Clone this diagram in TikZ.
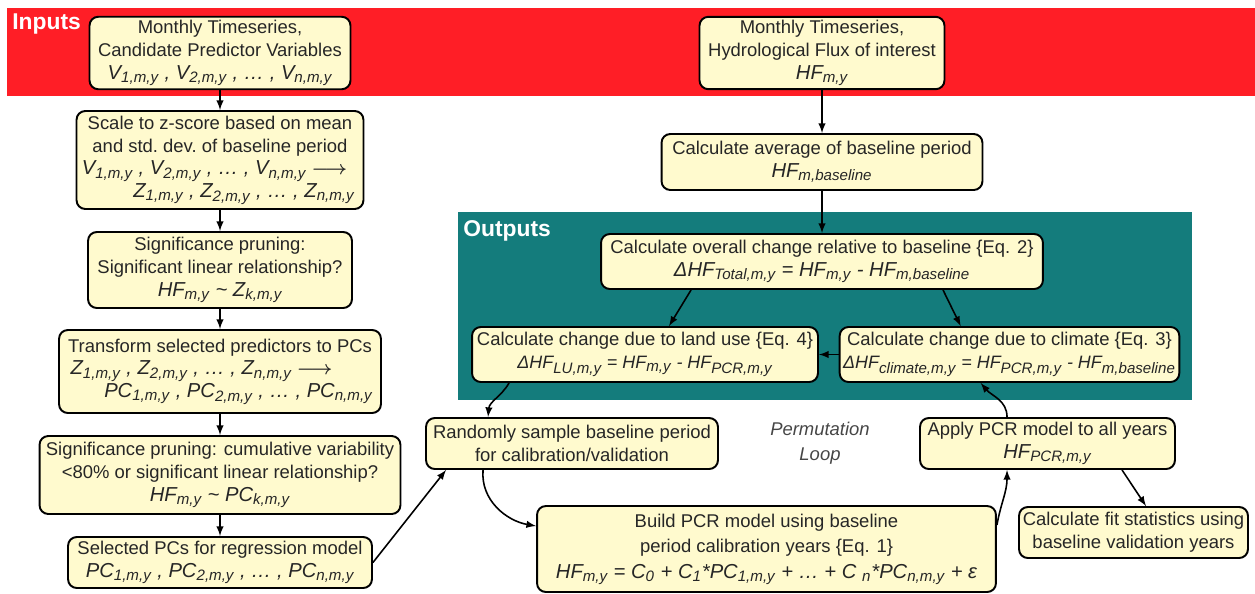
\documentclass[tikz,border=0pt]{standalone}
\usepackage{fontspec}
\setmainfont{Liberation Sans}
\usetikzlibrary{positioning}
\usetikzlibrary{arrows.meta}
\definecolor{inred}{RGB}{255,30,38}
\definecolor{outteal}{RGB}{20,124,124}
\definecolor{boxfill}{RGB}{255,250,206}
\definecolor{looptext}{RGB}{70,70,70}
\tikzset{
    stepbox/.style = {rectangle, rounded corners=5pt, line width=1.1pt, draw=black, fill=boxfill, align=center, inner sep=2pt, text=black!85, font=\fontsize{10.5}{13}\selectfont},
    bandlabel/.style = {anchor=north west, inner sep=0pt, text=white, font=\fontsize{13}{15}\selectfont\bfseries},
    looplabel/.style = {align=center, text=looptext, font=\fontsize{10.5}{14}\selectfont\itshape},
    edgen/.style = {-latex, line width=0.9pt},
}
\newcommand{\sbs}[1]{\textsubscript{\fontsize{8.6}{9}\selectfont #1}}
\newcommand{\vs}[2]{#1\sbs{#2}}
\newcommand{\fml}[1]{{\fontsize{11.5}{13}\selectfont\itshape #1}}
\newcommand{\fmls}[1]{{\fontsize{10.2}{13}\selectfont\itshape #1}}
\newcommand{\bigarrow}{{\boldmath$\longrightarrow$}}

\begin{document}
\begin{tikzpicture}[x=0.02cm,y=-0.02cm]
\useasboundingbox (0,0) rectangle (1255,593);
\fill[inred] (7,8) rectangle (1255,96);
\fill[outteal] (458,212) rectangle (1192,400);
\node[bandlabel] at (12,13) (inlbl) {Inputs};
\node[bandlabel] at (463,220) (outlbl) {Outputs};
% inputs column
\node[stepbox, minimum width=5.22cm, minimum height=1.44cm] at (220,53) (a1) {Monthly Timeseries,\\Candidate Predictor Variables\\\fml{\vs{V}{1,m,y} , \vs{V}{2,m,y} , … , \vs{V}{n,m,y}}};
\node[stepbox, minimum width=5.74cm, minimum height=1.96cm] at (220,160) (a2) {Scale to z-score based on mean\\and std.\ dev.\ of baseline period\\\hspace*{-0.6em}\fml{\vs{V}{1,m,y} , \vs{V}{2,m,y} , … , \vs{V}{n,m,y}} \bigarrow\hspace*{0.6em}\\\hspace*{1.3em}\fml{\vs{Z}{1,m,y} , \vs{Z}{2,m,y} , … , \vs{Z}{n,m,y}}\hspace*{-1.3em}};
\node[stepbox, minimum width=5.28cm, minimum height=1.52cm] at (220,270) (a3) {Significance pruning:\\Significant linear relationship?\\\fml{\vs{HF}{m,y} \textasciitilde{} \vs{Z}{k,m,y}}};
\node[stepbox, minimum width=6.44cm, minimum height=1.66cm] at (220,371.5) (a4) {Transform selected predictors to PCs\\\hspace*{-2em}\fml{\vs{Z}{1,m,y} , \vs{Z}{2,m,y} , … , \vs{Z}{n,m,y}} \bigarrow\hspace*{2em}\\\hspace*{1em}\fml{\vs{PC}{1,m,y} , \vs{PC}{2,m,y} , … , \vs{PC}{n,m,y}}\hspace*{-1em}};
\node[stepbox, minimum width=7.22cm, minimum height=1.56cm] at (220,475) (a5) {Significance pruning: cumulative variability\\<80\% or significant linear relationship?\\\fml{\vs{HF}{m,y} \textasciitilde{} \vs{PC}{k,m,y}}};
\node[stepbox, minimum width=6.08cm, minimum height=1.02cm] at (220,562.5) (a6) {Selected PCs for regression model\\\fml{\vs{PC}{1,m,y} , \vs{PC}{2,m,y} , … , \vs{PC}{n,m,y}}};
% flux column
\node[stepbox, minimum width=4.9cm, minimum height=1.44cm] at (822,53) (b1) {Monthly Timeseries,\\Hydrological Flux of interest\\\fml{\vs{HF}{m,y}}};
\node[stepbox, minimum width=6.42cm, minimum height=1.12cm] at (822,162) (b2) {Calculate average of baseline period\\\fml{\vs{HF}{m,baseline}}};
% outputs
\node[stepbox, minimum width=8.84cm, minimum height=1.1cm] at (822,261.5) (c1) {Calculate overall change relative to baseline \{Eq. 2\}\\\fml{Δ\vs{HF}{Total,m,y} = \vs{HF}{m,y} - \vs{HF}{m,baseline}}};
\node[stepbox, minimum width=6.92cm, minimum height=1.1cm] at (645,354.5) (c2) {Calculate change due to land use \{Eq. 4\}\\\fmls{Δ\vs{HF}{LU,m,y} = \vs{HF}{m,y} - \vs{HF}{PCR,m,y}}};
\node[stepbox, minimum width=6.74cm, minimum height=1.1cm] at (1009.5,354.5) (c3) {Calculate change due to climate \{Eq. 3\}\\\fmls{Δ\vs{HF}{climate,m,y} = \vs{HF}{PCR,m,y} - \vs{HF}{m,baseline}}};
% permutation loop
\node[stepbox, minimum width=5.84cm, minimum height=1.02cm] at (572,443.5) (d1) {Randomly sample baseline period\\for calibration/validation};
\node[stepbox, minimum width=5.1cm, minimum height=1.02cm] at (1047.5,443.5) (d2) {Apply PCR model to all years\\\fml{\vs{HF}{PCR,m,y}}};
\node[stepbox, minimum width=9.18cm, minimum height=1.72cm, font=\fontsize{10.5}{14.5}\selectfont] at (766.5,549) (d3) {Build PCR model using baseline\\period calibration years \{Eq. 1\}\\\fml{\vs{HF}{m,y} = \vs{C}{0} + \vs{C}{1}*\vs{PC}{1,m,y} + … + C \sbs{n}*\vs{PC}{n,m,y} + ε}};
\node[stepbox, minimum width=4.58cm, minimum height=1.02cm] at (1133.5,532.5) (d4) {Calculate fit statistics using\\baseline validation years};
\node[looplabel] at (820,443) (loop) {Permutation\\Loop};
%
\draw[edgen] (a1) edge (a2) (a2) edge (a3) (a3) edge (a4) (a4) edge (a5) (a5) edge (a6);
\draw[edgen] (b1) edge (b2) (b2) edge (c1);
\draw[edgen] ([xshift=1.82cm]c1.south west) -- ([xshift=3.96cm]c2.north west);
\draw[edgen] ([xshift=6.86cm]c1.south west) -- ([xshift=2.44cm]c3.north west);
\draw[edgen] (c3) -- (c2);
\draw[edgen] ([xshift=0.76cm]c2.south west) to[out=-120,in=85] ([xshift=1.26cm]d1.north west);
\draw[edgen] (a6.east) -- ([xshift=0.42cm]d1.south west);
\draw[edgen] ([xshift=1.16cm]d1.south west) to[out=-95,in=170] ([yshift=-0.42cm]d3.north west);
\draw[edgen] ([yshift=-0.4cm]d3.north east) to[out=80,in=-90] ([xshift=1.76cm]d2.south west);
\draw[edgen] ([xshift=1.76cm]d2.north west) to[out=90,in=-50] ([xshift=2.84cm]c3.south west);
\draw[edgen] ([xshift=4.06cm]d2.south west) -- ([xshift=2.56cm]d4.north west);
\end{tikzpicture}
\end{document}
